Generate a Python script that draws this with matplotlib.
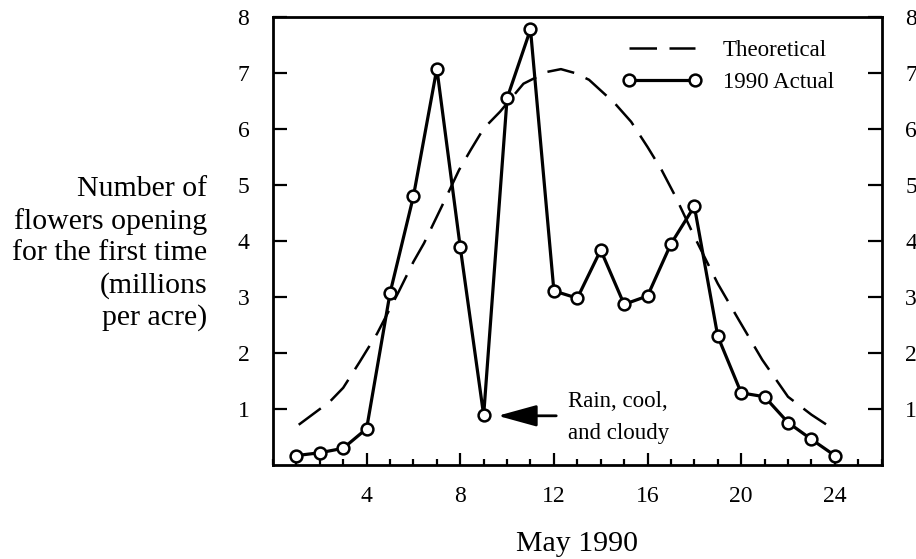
import numpy as np
import matplotlib
matplotlib.use("Agg")
import matplotlib.pyplot as plt
from matplotlib.ticker import MultipleLocator

plt.rcParams['font.family'] = ['Liberation Serif', 'DejaVu Serif']

# 1990 actual counts (millions per acre), May 1..24
days = list(range(1, 25))
actual = [0.17, 0.22, 0.30, 0.65, 3.07, 4.80, 7.08, 3.89, 0.89, 6.55, 7.78, 3.11,
          2.98, 3.84, 2.87, 3.02, 3.95, 4.62, 2.30, 1.29, 1.22, 0.76, 0.46, 0.17]

# theoretical curve
theo_day = [1.1, 2.0, 2.4, 3.0, 3.7, 4.45, 5.4, 6.0, 6.45, 7.2, 7.95, 8.45, 9.0,
            9.7, 10.7, 11.7, 12.3, 12.9, 13.5, 14.6, 15.3, 16.0, 16.6, 17.2, 18.0,
            19.0, 19.9, 20.9, 22.0, 23.0, 23.8]
theo_val = [0.72, 1.0, 1.12, 1.38, 1.84, 2.35, 3.12, 3.63, 3.96, 4.61, 5.27, 5.63,
            6.01, 6.31, 6.81, 7.02, 7.07, 7.0, 6.88, 6.46, 6.13, 5.68, 5.27, 4.79,
            4.08, 3.24, 2.59, 1.88, 1.22, 0.9, 0.68]

fig = plt.figure(figsize=(9.16, 5.59), dpi=100)
ax = fig.add_axes([0.298, 0.168, 0.6645, 0.8015])

ax.plot(theo_day, theo_val, color='black', lw=1.8, dashes=(11, 5),
        label='Theoretical')
ax.plot(days, actual, color='black', lw=2.3, marker='o', markersize=8.5,
        markerfacecolor='white', markeredgecolor='black', markeredgewidth=1.8,
        label='1990 Actual')

ax.set_xlim(0, 26)
ax.set_ylim(0, 8)
ax.xaxis.set_major_locator(MultipleLocator(4))
ax.xaxis.set_minor_locator(MultipleLocator(1))
ax.set_xticks([4, 8, 12, 16, 20, 24])
ax.set_yticks([1, 2, 3, 4, 5, 6, 7, 8])

for s in ax.spines.values():
    s.set_linewidth(2.0)

ax.tick_params(axis='x', which='major', direction='in', length=9, width=1.6,
               labelsize=17, pad=15)
ax.tick_params(axis='x', which='minor', direction='in', length=4.5, width=1.6)
ax.tick_params(axis='y', which='major', direction='in', length=10, width=1.6,
               labelsize=17, pad=17, left=True, right=True,
               labelleft=True, labelright=True)

ax.legend(loc='upper right', bbox_to_anchor=(0.955, 0.995), frameon=False,
          fontsize=16.5, numpoints=2, handlelength=3.5, handletextpad=0.9,
          labelspacing=0.5)

ax.annotate('', xy=(9.6, 0.88), xytext=(12.1, 0.88),
            arrowprops=dict(arrowstyle='-|>,head_length=1.2,head_width=0.33',
                            mutation_scale=20, lw=2, color='black',
                            shrinkA=0, shrinkB=0))
ax.text(12.6, 0.85, 'Rain, cool,\nand cloudy', fontsize=16.5, ha='left',
        va='center', linespacing=1.65)

fig.text(0.226, 0.546, 'Number of\nflowers opening\nfor the first time\n(millions\nper acre)',
         fontsize=21.5, ha='right', va='center', linespacing=1.27)
fig.text(0.63, 0.0143, 'May 1990', fontsize=21.5, ha='center', va='baseline')

fig.savefig('out.png', dpi=100)
